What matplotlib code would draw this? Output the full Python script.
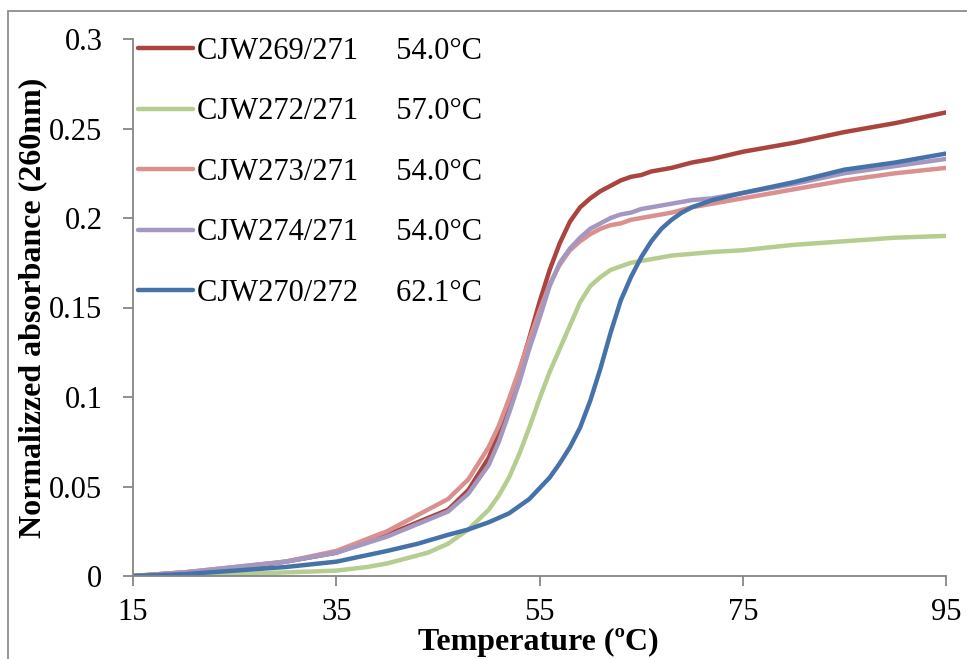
import matplotlib
matplotlib.use("Agg")
import matplotlib.pyplot as plt
from matplotlib.patches import Rectangle

plt.rcParams["font.family"] = ["Liberation Serif", "DejaVu Serif"]

# ── data ─────────────────────────────────────────────────────────────────────
temp_a = [15, 20, 25, 30, 35, 40, 43, 46, 48, 50, 51, 52, 53, 54, 55, 56, 57,
          58, 59, 60, 61, 62, 63, 64, 65, 66, 67, 68, 70, 72, 75, 80, 85, 90, 95]

cjw269 = [0.000, 0.002, 0.004, 0.008, 0.013, 0.023, 0.030, 0.037, 0.048, 0.066,
          0.080, 0.096, 0.114, 0.133, 0.153, 0.171, 0.186, 0.198, 0.206, 0.211,
          0.215, 0.218, 0.221, 0.223, 0.224, 0.226, 0.227, 0.228, 0.231, 0.233,
          0.237, 0.242, 0.248, 0.253, 0.259]

cjw273 = [0.000, 0.002, 0.005, 0.008, 0.014, 0.025, 0.034, 0.043, 0.054, 0.072,
          0.084, 0.099, 0.115, 0.132, 0.148, 0.163, 0.174, 0.182, 0.187, 0.191,
          0.194, 0.196, 0.197, 0.199, 0.200, 0.201, 0.202, 0.203, 0.206, 0.208,
          0.211, 0.216, 0.221, 0.225, 0.228]

cjw274 = [0.000, 0.002, 0.005, 0.008, 0.013, 0.022, 0.029, 0.036, 0.046, 0.062,
          0.075, 0.091, 0.108, 0.127, 0.144, 0.162, 0.175, 0.183, 0.189, 0.194,
          0.197, 0.200, 0.202, 0.203, 0.205, 0.206, 0.207, 0.208, 0.210, 0.211,
          0.214, 0.219, 0.225, 0.229, 0.233]

temp_g = [15, 20, 25, 30, 35, 38, 40, 42, 44, 46, 48, 50, 51, 52, 53, 54, 55,
          56, 57, 58, 59, 60, 61, 62, 63, 64, 65, 66, 67, 68, 70, 72, 75, 80,
          85, 90, 95]
cjw272 = [0.000, 0.000, 0.001, 0.002, 0.003, 0.005, 0.007, 0.010, 0.013, 0.018,
          0.026, 0.037, 0.045, 0.055, 0.068, 0.083, 0.099, 0.114, 0.127, 0.140,
          0.153, 0.162, 0.167, 0.171, 0.173, 0.175, 0.176, 0.177, 0.178, 0.179,
          0.180, 0.181, 0.182, 0.185, 0.187, 0.189, 0.190]

temp_b = [15, 20, 25, 30, 35, 40, 43, 46, 48, 50, 52, 54, 55, 56, 57, 58, 59,
          60, 61, 62, 63, 64, 65, 66, 67, 68, 69, 70, 72, 75, 80, 85, 90, 95]
cjw270 = [0.000, 0.001, 0.003, 0.005, 0.008, 0.014, 0.018, 0.023, 0.026, 0.030,
          0.035, 0.043, 0.049, 0.055, 0.063, 0.072, 0.083, 0.098, 0.116, 0.136,
          0.154, 0.167, 0.178, 0.187, 0.194, 0.199, 0.203, 0.206, 0.210, 0.214,
          0.220, 0.227, 0.231, 0.236]

series = [
    (temp_a, cjw269, "CJW269/271     54.0°C", "#A9443F"),
    (temp_g, cjw272, "CJW272/271     57.0°C", "#B5CD8F"),
    (temp_a, cjw273, "CJW273/271     54.0°C", "#D9908E"),
    (temp_a, cjw274, "CJW274/271     54.0°C", "#A598C0"),
    (temp_b, cjw270, "CJW270/272     62.1°C", "#4672AA"),
]

x_ticks = [15, 35, 55, 75, 95]
y_ticks = [0, 0.05, 0.1, 0.15, 0.2, 0.25, 0.3]
y_tick_labels = ["0", "0.05", "0.1", "0.15", "0.2", "0.25", "0.3"]

FS = 22        # tick labels and legend
FS_TITLE = 23  # axis titles

# ── figure ───────────────────────────────────────────────────────────────────
fig = plt.figure(figsize=(9.67, 6.59), dpi=100)
ax = fig.add_axes([133 / 967, 1 - 576 / 659, (946 - 133) / 967, (576 - 39) / 659])

for t, a, lbl, col in series:
    ax.plot(t, a, color=col, lw=3.2, label=lbl, solid_capstyle="round",
            solid_joinstyle="round")

ax.set_xlim(15, 95)
ax.set_ylim(0, 0.3)
ax.set_xticks(x_ticks)
ax.set_yticks(y_ticks)
ax.set_yticklabels(y_tick_labels)

for s in ["top", "right"]:
    ax.spines[s].set_visible(False)
for s in ["left", "bottom"]:
    ax.spines[s].set_color("#868686")
    ax.spines[s].set_linewidth(1.3)
ax.tick_params(direction="out", length=7, width=1.3, color="#868686",
               labelsize=FS)
ax.tick_params(axis="x", pad=9)
ax.tick_params(axis="y", pad=15)

ax.set_xlabel("Temperature (ºC)", fontsize=FS_TITLE, fontweight="bold", va="top")
ax.xaxis.set_label_coords(0.498, (576 - 628) / 537)
ax.set_ylabel("Normalizzed absorbance (260nm)", fontsize=FS_TITLE,
              fontweight="bold", va="center")
ax.yaxis.set_label_coords((33 - 133) / 813, 0.5)

ax.legend(loc="upper left", bbox_to_anchor=(138 / 967, 1 - 37 / 659),
          bbox_transform=fig.transFigure, frameon=False, fontsize=FS,
          handlelength=1.8, handletextpad=0.13, labelspacing=1.03,
          borderpad=0, borderaxespad=0)

# outer chart border, cropped on the right and bottom
fig.patches.append(Rectangle((8 / 967, -0.2), 1.2, 1.2 - 11 / 659,
                             transform=fig.transFigure, fill=False,
                             edgecolor="#8C8C8C", lw=1.3))

fig.savefig("out.png", dpi=100)
